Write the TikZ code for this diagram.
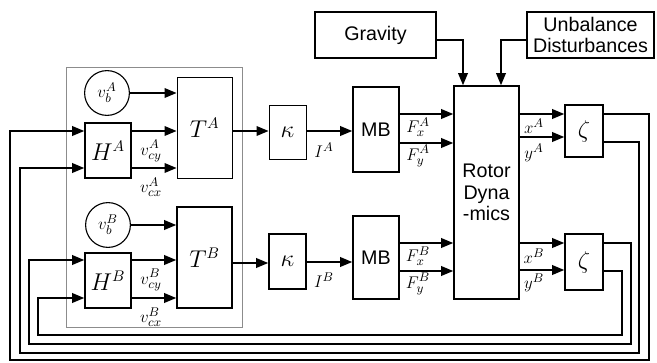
\documentclass[tikz,border=0pt]{standalone}
\usepackage{fontspec}
\setsansfont{Liberation Sans}
\usetikzlibrary{positioning,arrows.meta,shapes.geometric,calc}
\definecolor{frame}{HTML}{8C8C8C}

\begin{document}
\begin{tikzpicture}[
    x=0.025cm, y=-0.025cm,
    blk/.style={draw, line width=1.1pt, inner sep=0pt, font=\fontsize{16}{18}\selectfont},
    thinblk/.style={blk, line width=0.6pt},
    src/.style={draw, line width=0.8pt, circle, minimum size=1.12cm, inner sep=0pt, font=\fontsize{13}{15}\selectfont},
    word/.style={blk, font=\sffamily\fontsize{14}{15.5}\selectfont, align=center},
    arr/.style={-{Triangle[length=0.3cm,width=0.24cm]}, line width=1.1pt},
    sig/.style={font=\fontsize{13}{15}\selectfont, inner sep=0pt}
]
\useasboundingbox (0,0) rectangle (657,362);

\node[draw=frame, line width=0.6pt, minimum width=4.4cm, minimum height=6.5cm] (grp) at (154,197) {};

\node[src] (vbA) at (107,93) {$v_b^A$};
\node[src] (vbB) at (108,225) {$v_b^B$};
\node[blk, minimum width=1.15cm, minimum height=1.375cm] (HA) at (108,150.5) {$H^A$};
\node[blk, minimum width=1.15cm, minimum height=1.375cm] (HB) at (108,280.5) {$H^B$};
\node[thinblk, minimum width=1.375cm, minimum height=2.525cm] (TA) at (204.5,127.5) {$T^A$};
\node[blk, minimum width=1.375cm, minimum height=2.525cm] (TB) at (204.5,257.5) {$T^B$};
\node[thinblk, minimum width=0.925cm, minimum height=1.35cm] (kA) at (287.5,132) {$\kappa$};
\node[blk, minimum width=0.925cm, minimum height=1.375cm] (kB) at (287.5,261.5) {$\kappa$};
\node[word, minimum width=1.15cm, minimum height=2.125cm] (MBA) at (376,129.5) {MB};
\node[word, minimum width=1.15cm, minimum height=2.075cm] (MBB) at (376,257.5) {MB};
\node[word, minimum width=1.625cm, minimum height=5.325cm] (RD) at (486.5,192.5) {Rotor\\Dyna\\-mics};
\node[blk, minimum width=0.95cm, minimum height=1.3cm] (zA) at (584,131) {$\zeta$};
\node[blk, minimum width=0.95cm, minimum height=1.4cm] (zB) at (584,262) {$\zeta$};
\node[word, minimum width=3.025cm, minimum height=1.15cm] (grav) at (375.5,35) {Gravity};
\node[word, minimum width=3.175cm, minimum height=1.15cm] (unb) at (590.5,35) {Unbalance\\Disturbances};

\node[sig] (vcyA) at (151,151) {$v_{cy}^A$};
\node[sig] (vcxA) at (151,187) {$v_{cx}^A$};
\node[sig] (vcyB) at (151,280) {$v_{cy}^B$};
\node[sig] (vcxB) at (151,317) {$v_{cx}^B$};
\node[sig] (IA) at (324,150) {$I^A$};
\node[sig] (IB) at (324,280) {$I^B$};
\node[sig] (FxA) at (418,127) {$F_x^A$};
\node[sig] (FyA) at (418,156) {$F_y^A$};
\node[sig] (FxB) at (418,256) {$F_x^B$};
\node[sig] (FyB) at (418,284) {$F_y^B$};
\node[sig] (xA) at (534,126) {$x^A$};
\node[sig] (yA) at (534,153) {$y^A$};
\node[sig] (xB) at (534,256) {$x^B$};
\node[sig] (yB) at (534,283) {$y^B$};

\draw[arr] (vbA) -- (TA.west |- vbA);
\draw[arr] (HA.east |- 0,131) -- (TA.west |- 0,131);
\draw[arr] (HA.east |- 0,168) -- (TA.west |- 0,168);
\draw[arr] (TA.east |- 0,131) -- (kA.west |- 0,131);
\draw[arr] (kA.east |- 0,131) -- (MBA.west |- 0,131);
\draw[arr] (MBA.east |- 0,114) -- (RD.west |- 0,114);
\draw[arr] (MBA.east |- 0,143) -- (RD.west |- 0,143);
\draw[arr] (RD.east |- 0,114) -- (zA.west |- 0,114);
\draw[arr] (RD.east |- 0,137) -- (zA.west |- 0,137);

\draw[arr] (vbB) -- (TB.west |- vbB);
\draw[arr] (HB.east |- 0,260) -- (TB.west |- 0,260);
\draw[arr] (HB.east |- 0,298) -- (TB.west |- 0,298);
\draw[arr] (TB.east |- 0,263) -- (kB.west |- 0,263);
\draw[arr] (kB.east |- 0,262) -- (MBB.west |- 0,262);
\draw[arr] (MBB.east |- 0,243) -- (RD.west |- 0,243);
\draw[arr] (MBB.east |- 0,271) -- (RD.west |- 0,271);
\draw[arr] (RD.east |- 0,243) -- (zB.west |- 0,243);
\draw[arr] (RD.east |- 0,270) -- (zB.west |- 0,270);

\draw[arr] (grav.east |- 0,40) -| (RD.north -| 463,0);
\draw[arr] (unb.west |- 0,40) -| (RD.north -| 501,0);

\draw[arr] (zA.east |- 0,114) -| (649,360) -| (10,131) -- (HA.west |- 0,131);
\draw[arr] (zA.east |- 0,142) -| (639,353) -| (20,168) -- (HA.west |- 0,168);
\draw[arr] (zB.east |- 0,243) -| (631,344) -| (29,260) -- (HB.west |- 0,260);
\draw[arr] (zB.east |- 0,271) -| (622,335) -| (38,298) -- (HB.west |- 0,298);

\end{tikzpicture}
\end{document}
